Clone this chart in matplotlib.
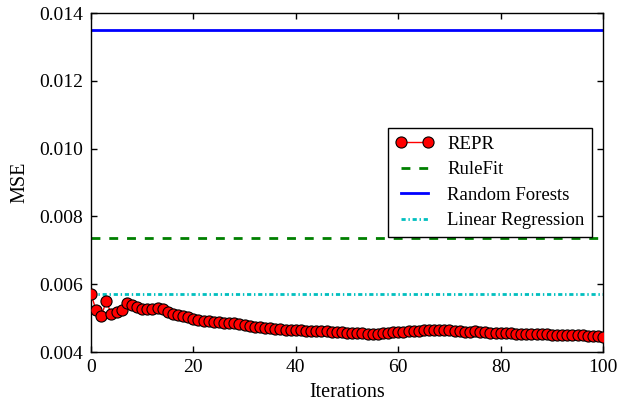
import matplotlib
matplotlib.use("Agg")
import matplotlib.pyplot as plt

# MSE of REPR per iteration (0..100)
iterations = list(range(101))
repr_mse = [
    0.00572, 0.00524, 0.00505, 0.00550, 0.00512, 0.00518, 0.00525, 0.00545, 0.00540, 0.00532,
    0.00528, 0.00527, 0.00526, 0.00530, 0.00526, 0.00518, 0.00513, 0.00510, 0.00506, 0.00502,
    0.00498, 0.00495, 0.00493, 0.00491, 0.00489, 0.00488, 0.00486, 0.00487, 0.00485, 0.00483,
    0.00481, 0.00477, 0.00475, 0.00473, 0.00471, 0.00470, 0.00468, 0.00467, 0.00466, 0.00466,
    0.00465, 0.00464, 0.00463, 0.00462, 0.00462, 0.00461, 0.00461, 0.00459, 0.00458, 0.00458,
    0.00457, 0.00456, 0.00455, 0.00455, 0.00454, 0.00454, 0.00454, 0.00455, 0.00456, 0.00458,
    0.00459, 0.00460, 0.00461, 0.00462, 0.00463, 0.00464, 0.00465, 0.00466, 0.00466, 0.00465,
    0.00464, 0.00462, 0.00461, 0.00460, 0.00460, 0.00461, 0.00460, 0.00458, 0.00457, 0.00456,
    0.00456, 0.00455, 0.00455, 0.00454, 0.00454, 0.00453, 0.00453, 0.00452, 0.00452, 0.00452,
    0.00451, 0.00451, 0.00450, 0.00450, 0.00451, 0.00450, 0.00449, 0.00448, 0.00447, 0.00446,
    0.00445,
]
rulefit_mse = 0.00736
random_forests_mse = 0.0135
linear_regression_mse = 0.00571

plt.rcParams['font.family'] = ['Liberation Serif', 'DejaVu Serif']
plt.rcParams['font.size'] = 14

fig = plt.figure(figsize=(6.27, 4.07), dpi=100)
ax = fig.add_axes([0.145, 0.135, 0.817, 0.833])

ax.plot(iterations, repr_mse, color='red', lw=1, marker='o', markersize=8,
        markeredgecolor='black', markeredgewidth=0.8, label='REPR', zorder=3)
ax.axhline(rulefit_mse, color='green', lw=2, linestyle=(0, (3.2, 3.2)), label='RuleFit')
ax.axhline(random_forests_mse, color='blue', lw=2, label='Random Forests')
ax.axhline(linear_regression_mse, color='c', lw=2, linestyle=(0, (1.5, 1.0, 0.5, 1.0)),
           label='Linear Regression')

ax.set_xlim(0, 100)
ax.set_ylim(0.004, 0.014)
ax.set_xticks([0, 20, 40, 60, 80, 100])
ax.set_yticks([0.004, 0.006, 0.008, 0.010, 0.012, 0.014])
ax.set_yticklabels(['0.004', '0.006', '0.008', '0.010', '0.012', '0.014'])
ax.tick_params(direction='in', length=4.5, width=1, top=True, right=True, pad=5,
               labelsize=14)
ax.tick_params(axis='y', pad=5.5)
for sp in ax.spines.values():
    sp.set_linewidth(1)

ax.set_xlabel('Iterations', fontsize=14.5, labelpad=5)
ax.set_ylabel('MSE', fontsize=14.5, labelpad=7)

leg = ax.legend(loc='center right', bbox_to_anchor=(0.9785, 0.5), borderaxespad=0,
                numpoints=2, fancybox=False, framealpha=1, edgecolor='black',
                handlelength=2.0, handletextpad=0.75, labelspacing=0.44,
                borderpad=0.4, fontsize=13.5)
leg.get_frame().set_linewidth(1)

fig.savefig('out.png', dpi=100)
